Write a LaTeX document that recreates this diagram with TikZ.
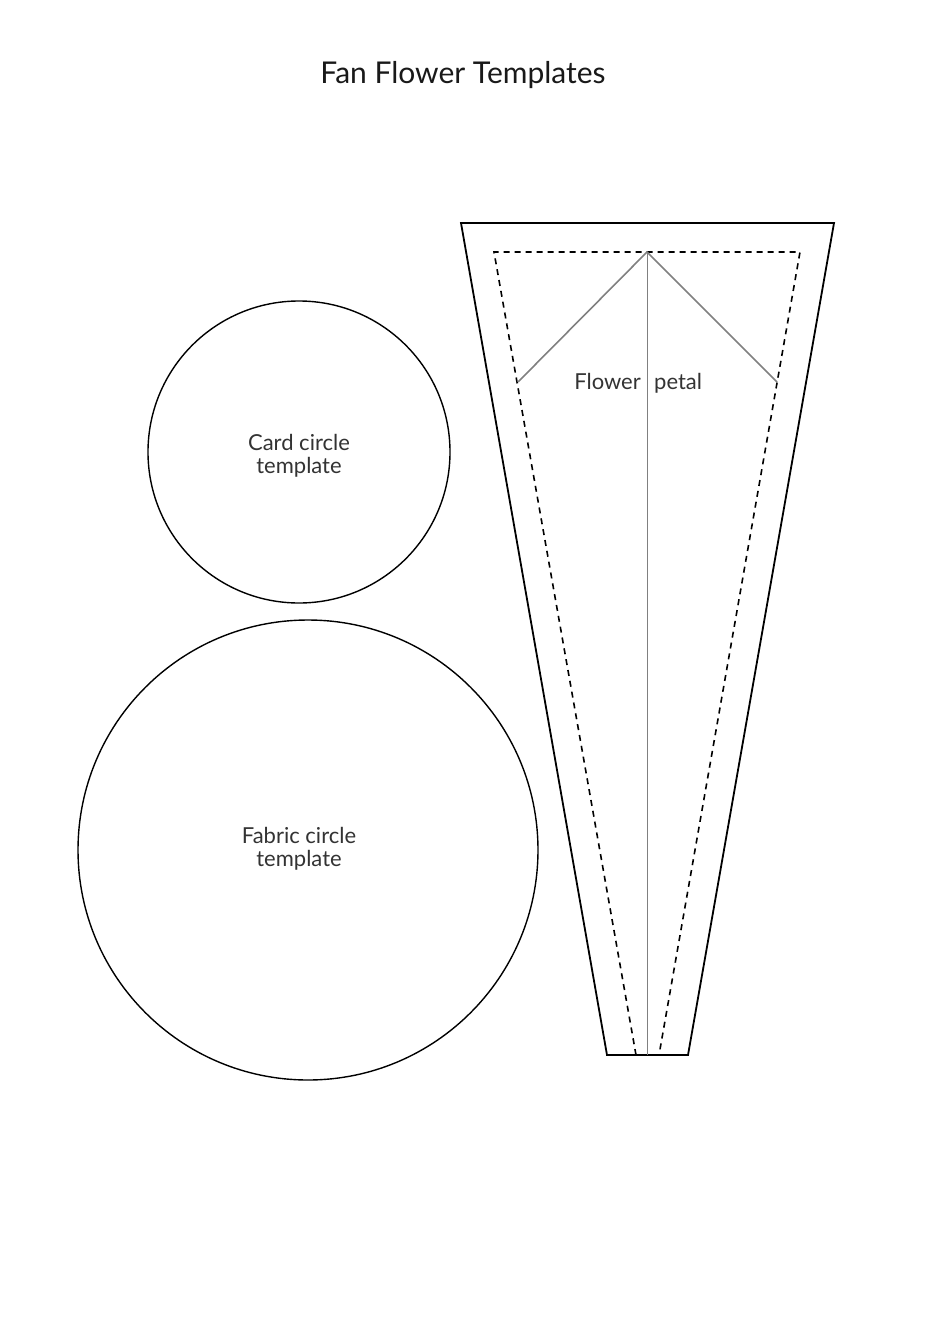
\documentclass[tikz,border=0pt]{standalone}
\usepackage{fontspec}
\setmainfont{Lato}
\usepackage{tikz}

\begin{document}
\begin{tikzpicture}[x=1pt,y=-1pt,
  cutline/.style={black, line width=1.8pt, line join=miter},
  seamline/.style={black, line width=1.6pt, dash pattern=on 6pt off 5pt},
  foldline/.style={gray, line width=1.6pt},
  midline/.style={gray, line width=0.8pt},
  label/.style={text=black!80, font=\fontsize{22}{23}\selectfont, align=center, inner sep=0pt}]
\useasboundingbox (0,0) rectangle (950,1344);
\node[text=black!90] (T) at (463,75) {\fontsize{30}{34}\selectfont Fan Flower Templates};
\draw [black, line width=1.4pt] (299,452) circle (151);
\node[label] (C) at (299,456) {Card circle\\template};
\draw [black, line width=1.4pt] (308,850) circle (230);
\node[label] (F) at (299,849) {Fabric circle\\template};
\coordinate (A1) at (461,223);
\coordinate (A2) at (834,223);
\coordinate (A3) at (688,1055);
\coordinate (A4) at (607,1055);
\coordinate (B1) at (494,252);
\coordinate (B2) at (800,252);
\coordinate (B3) at (659,1055);
\coordinate (B4) at (636,1055);
\coordinate (P) at (647,252);
\coordinate (Q) at (647,1055);
\coordinate (L) at (518,382);
\coordinate (R) at (777,382);
\draw [cutline] (A1) -- (A2) -- (A3) -- (A4) -- cycle;
\draw [seamline] (B4) -- (B1) -- (B2) -- (B3);
\draw [midline] (P) -- (Q);
\draw [foldline] (L) -- (P) -- (R);
\node[label, anchor=base east] (W1) at (641,389) {Flower};
\node[label, anchor=base west] (W2) at (654,389) {petal};
\end{tikzpicture}
\end{document}
